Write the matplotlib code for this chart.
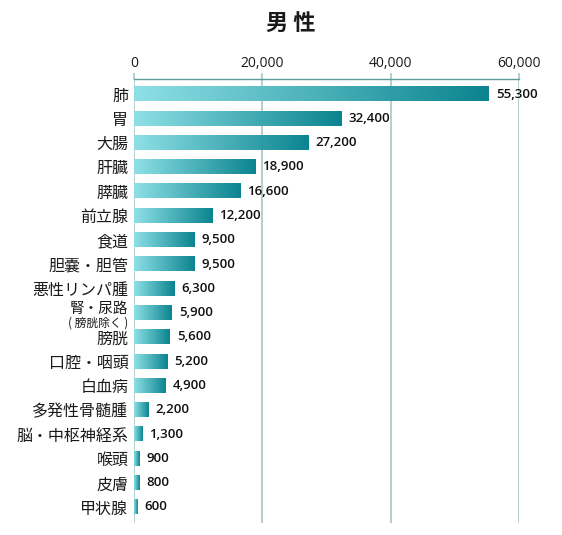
import numpy as np
import matplotlib
matplotlib.use("Agg")
import matplotlib.pyplot as plt
from matplotlib.colors import LinearSegmentedColormap

plt.rcParams['font.family'] = ['Noto Sans CJK JP', 'DejaVu Sans']

categories = ["肺", "胃", "大腸", "肝臓", "膵臓", "前立腺", "食道", "胆嚢・胆管",
              "悪性リンパ腫", "腎・尿路", "膀胱", "口腔・咽頭", "白血病",
              "多発性骨髄腫", "脳・中枢神経系", "喉頭", "皮膚", "甲状腺"]
values = [55300, 32400, 27200, 18900, 16600, 12200, 9500, 9500,
          6300, 5900, 5600, 5200, 4900, 2200, 1300, 900, 800, 600]
xticks = [0, 20000, 40000, 60000]
sub_label = "( 膀胱除く )"   # goes under 腎・尿路
title = "男 性"

grid_col = "#a3caca"
axis_col = "#5f9c9c"
cmap = LinearSegmentedColormap.from_list("teal", ["#8ee0e6", "#0b848f"])
grad = np.linspace(0, 1, 256).reshape(1, -1)

fig = plt.figure(figsize=(5.62, 5.35), dpi=100)
ax = fig.add_axes([0.2384, 0.0224, 0.685, 0.830])

h = 0.6
y = np.arange(len(categories))
for i, v in enumerate(values):
    ax.imshow(grad, cmap=cmap, aspect="auto", interpolation="bicubic",
              extent=(0, v, i + h / 2, i - h / 2), zorder=3)
    ax.annotate(f"{v:,}", xy=(v, i), xytext=(5, 0), textcoords="offset points",
                ha="left", va="center", fontsize=9.5, fontweight="semibold",
                color="#111111", family=["Open Sans", "DejaVu Sans"], zorder=5)

ax.set_xlim(0, 60000)
ax.set_ylim(len(categories) - 1 + 0.66, -0.62)

ax.set_yticks(y)
labels = list(categories)
idx = categories.index("腎・尿路")
labels[idx] = ""
ax.set_yticklabels(labels, fontsize=11.5, color="#1a1a1a")
ax.tick_params(axis="y", length=0, pad=4)
ax.annotate(categories[idx], xy=(0, idx), xycoords=("axes fraction", "data"),
            xytext=(-4, 2.5), textcoords="offset points", ha="right", va="center",
            fontsize=10.5, color="#1a1a1a")
ax.annotate(sub_label, xy=(0, idx), xycoords=("axes fraction", "data"),
            xytext=(-4, -7.5), textcoords="offset points", ha="right", va="center",
            fontsize=8.5, color="#1a1a1a")

ax.xaxis.tick_top()
ax.set_xticks(xticks)
ax.set_xticklabels([f"{t:,}" for t in xticks], fontsize=10,
                   family=["Open Sans", "DejaVu Sans"], color="#1a1a1a")
ax.tick_params(axis="x", length=4, width=1.2, color=grid_col, pad=2)
ax.grid(axis="x", color=grid_col, linewidth=1.2, zorder=0)
ax.set_axisbelow(True)

for s in ["left", "right", "bottom"]:
    ax.spines[s].set_visible(False)
ax.spines["top"].set_color(axis_col)
ax.spines["top"].set_linewidth(1.0)

fig.text(0.518, 0.957, title, ha="center", va="center", fontsize=16,
         fontweight="bold", color="#1a1a1a")

fig.savefig("out.png", dpi=100)
